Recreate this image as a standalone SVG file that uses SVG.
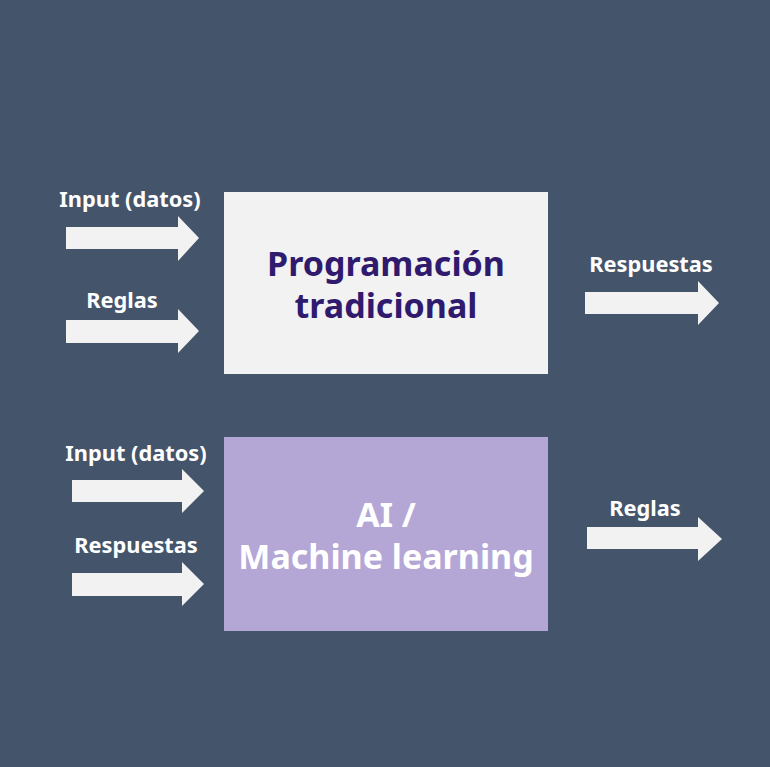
<svg xmlns="http://www.w3.org/2000/svg" width="770" height="767" viewBox="0 0 770 767">
<style>
.lbl{font-family:"Noto Sans","Open Sans",sans-serif;font-weight:bold;font-size:21.8px;fill:#ffffff;text-anchor:middle}
.big{font-family:"Noto Sans","Open Sans",sans-serif;font-weight:bold;font-size:34px;text-anchor:middle}
.arrow{fill:#f2f2f2}
</style>
<rect width="770" height="767" fill="#44546a"/>
<g id="node-trad">
<rect x="224" y="192" width="324" height="182" fill="#f2f2f2"/>
<text class="big" x="386" y="276" fill="#2f1a6e">Programación</text>
<text class="big" x="386" y="318" fill="#2f1a6e">tradicional</text>
</g>
<g id="node-ml">
<rect x="224" y="437" width="324" height="194" fill="#b4a7d6"/>
<text class="big" x="386" y="527" fill="#ffffff">AI /</text>
<text class="big" x="386" y="569" fill="#ffffff">Machine learning</text>
</g>
<g id="connectors">
<polygon class="arrow" points="66,227 178,227 178,216 199,238 178,261 178,249 66,249"/>
<polygon class="arrow" points="66,320 178,320 178,309 199,331 178,353 178,343 66,343"/>
<polygon class="arrow" points="585,292 698,292 698,281 719,303 698,325 698,314 585,314"/>
<polygon class="arrow" points="72,480 182,480 182,469 204,491 182,513 182,502 72,502"/>
<polygon class="arrow" points="72,573 182,573 182,562 204,584 182,606 182,596 72,596"/>
<polygon class="arrow" points="587,527 698,527 698,517 722,539 698,561 698,549 587,549"/>
</g>
<g id="labels">
<text class="lbl" x="130" y="207">Input (datos)</text>
<text class="lbl" x="122" y="308">Reglas</text>
<text class="lbl" x="651" y="272">Respuestas</text>
<text class="lbl" x="136" y="461">Input (datos)</text>
<text class="lbl" x="136" y="553">Respuestas</text>
<text class="lbl" x="645" y="516">Reglas</text>
</g>
</svg>
